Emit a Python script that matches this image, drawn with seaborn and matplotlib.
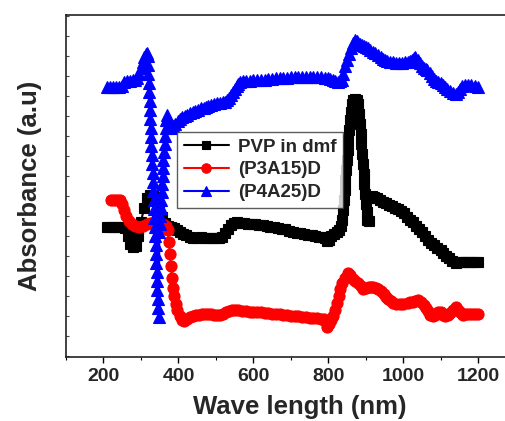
import matplotlib
matplotlib.use("Agg")
import matplotlib.pyplot as plt
import seaborn as sns
import pandas as pd
from matplotlib.ticker import MultipleLocator, NullFormatter

# UV-Vis-NIR absorbance spectra (arbitrary units)
pvp_nm = [210, 220, 230, 240, 251, 258, 265, 272, 280, 287, 293, 300, 308, 316, 324,
          332, 340, 348, 356, 364, 372, 380, 388, 396, 404, 412, 420, 430, 440, 450,
          460, 470, 480, 490, 500, 508, 516, 524, 532, 540, 548, 557, 566, 575, 585,
          595, 605, 615, 625, 635, 645, 655, 665, 675, 685, 695, 705, 715, 725, 735,
          745, 755, 765, 775, 785, 792, 797, 802, 808, 815, 822, 828, 833, 837, 839,
          841, 843, 845, 847, 849, 851, 853, 855, 857, 859, 862, 866, 871, 876, 880,
          882, 884, 886, 888, 890, 892, 894, 896, 898, 900, 902, 904, 907, 910, 915,
          922, 930, 938, 946, 954, 962, 970, 978, 986, 994, 1002, 1010, 1018, 1026, 1034,
          1042, 1050, 1058, 1066, 1074, 1082, 1090, 1099, 1106, 1114, 1122, 1130, 1139, 1147, 1155,
          1163, 1171, 1180, 1190, 1200]
pvp_abs = [0.545, 0.545, 0.545, 0.545, 0.545, 0.54, 0.50, 0.46, 0.445, 0.45, 0.50, 0.57, 0.64, 0.69, 0.705,
           0.705, 0.68, 0.63, 0.595, 0.565, 0.548, 0.545, 0.54, 0.53, 0.52, 0.51, 0.503, 0.495, 0.49, 0.49,
           0.495, 0.49, 0.49, 0.49, 0.49, 0.49, 0.495, 0.515, 0.535, 0.555, 0.565, 0.57, 0.567, 0.565, 0.562,
           0.56, 0.558, 0.555, 0.553, 0.55, 0.547, 0.543, 0.54, 0.537, 0.533, 0.527, 0.52, 0.517, 0.513, 0.51,
           0.507, 0.503, 0.50, 0.497, 0.495, 0.49, 0.475, 0.48, 0.50, 0.51, 0.52, 0.53, 0.55, 0.58, 0.63,
           0.68, 0.73, 0.78, 0.83, 0.88, 0.93, 0.98, 1.03, 1.08, 1.12, 1.16, 1.18, 1.185, 1.18, 1.16,
           1.11, 1.06, 1.01, 0.96, 0.91, 0.86, 0.81, 0.76, 0.71, 0.66, 0.62, 0.58, 0.575, 0.69, 0.70,
           0.695, 0.69, 0.68, 0.672, 0.665, 0.655, 0.648, 0.64, 0.635, 0.625, 0.615, 0.595, 0.58, 0.57, 0.55,
           0.535, 0.52, 0.50, 0.48, 0.465, 0.455, 0.44, 0.43, 0.415, 0.40, 0.39, 0.375, 0.365, 0.37, 0.37,
           0.37, 0.37, 0.37, 0.37, 0.37]

p3a15_nm = [220, 228, 236, 243, 249, 255, 261, 268, 275, 285, 295, 305, 315, 325, 335,
            345, 352, 360, 366, 371, 374, 377, 380, 383, 386, 389, 393, 397, 403, 410,
            416, 424, 432, 440, 448, 456, 464, 472, 480, 488, 496, 504, 512, 520, 528,
            536, 544, 552, 560, 570, 580, 590, 600, 610, 620, 630, 640, 650, 660, 670,
            680, 690, 700, 710, 720, 730, 740, 750, 760, 770, 780, 787, 792, 797, 802,
            807, 812, 817, 822, 827, 832, 837, 843, 851, 858, 865, 872, 880, 887, 893,
            900, 907, 914, 920, 927, 933, 940, 947, 954, 960, 967, 973, 981, 990, 1000,
            1011, 1018, 1025, 1032, 1040, 1047, 1055, 1060, 1065, 1072, 1079, 1085, 1093, 1100, 1106,
            1112, 1118, 1125, 1132, 1139, 1145, 1150, 1155, 1160, 1168, 1175, 1183, 1190, 1200]
p3a15_abs = [0.68, 0.68, 0.68, 0.678, 0.66, 0.63, 0.60, 0.575, 0.56, 0.55, 0.545, 0.55, 0.56, 0.565, 0.565,
             0.565, 0.565, 0.56, 0.55, 0.53, 0.47, 0.41, 0.35, 0.29, 0.24, 0.20, 0.16, 0.13, 0.10, 0.08,
             0.075, 0.085, 0.095, 0.10, 0.103, 0.106, 0.11, 0.11, 0.11, 0.11, 0.107, 0.105, 0.105, 0.11, 0.118,
             0.125, 0.128, 0.13, 0.13, 0.127, 0.125, 0.122, 0.12, 0.12, 0.12, 0.117, 0.115, 0.112, 0.11, 0.11,
             0.107, 0.105, 0.10, 0.10, 0.098, 0.095, 0.093, 0.092, 0.09, 0.088, 0.087, 0.085, 0.075, 0.045, 0.06,
             0.08, 0.10, 0.13, 0.165, 0.20, 0.235, 0.265, 0.29, 0.315, 0.305, 0.285, 0.275, 0.265, 0.25, 0.235,
             0.24, 0.245, 0.245, 0.245, 0.24, 0.235, 0.225, 0.21, 0.195, 0.185, 0.175, 0.165, 0.162, 0.16, 0.162,
             0.165, 0.168, 0.17, 0.175, 0.18, 0.17, 0.155, 0.14, 0.125, 0.105, 0.10, 0.105, 0.12, 0.118, 0.105,
             0.10, 0.105, 0.115, 0.13, 0.145, 0.13, 0.12, 0.11, 0.105, 0.108, 0.11, 0.11, 0.11, 0.11]

p4a25_nm = [210, 218, 226, 234, 242, 250, 256, 262, 270, 278, 284, 290, 295, 300, 305,
            309, 313, 317, 318, 319, 320, 321, 322, 323, 324, 325, 326, 327, 328, 329,
            330, 331, 332, 333, 334, 335, 336, 337, 338, 339, 340, 341, 342, 343, 344,
            345, 346, 347, 349, 350, 351, 353, 354, 355, 356, 358, 359, 360, 362, 363,
            364, 366, 367, 369, 372, 376, 380, 386, 392, 398, 404, 410, 417, 424, 431,
            438, 445, 452, 460, 467, 474, 480, 488, 495, 503, 512, 518, 525, 530, 535,
            540, 545, 550, 555, 560, 565, 573, 580, 590, 600, 610, 620, 630, 640, 650,
            660, 670, 680, 690, 700, 710, 720, 730, 740, 750, 760, 770, 780, 790, 798,
            805, 812, 818, 825, 830, 835, 840, 845, 850, 855, 860, 865, 870, 875, 880,
            885, 890, 895, 900, 906, 912, 918, 925, 932, 939, 945, 950, 957, 965, 972,
            980, 988, 995, 1003, 1011, 1017, 1022, 1027, 1032, 1038, 1045, 1050, 1055, 1060, 1064,
            1070, 1075, 1082, 1088, 1093, 1099, 1105, 1110, 1117, 1125, 1132, 1139, 1145, 1150, 1157,
            1165, 1172, 1180, 1190, 1200]
p4a25_abs = [1.245, 1.245, 1.245, 1.245, 1.245, 1.25, 1.27, 1.275, 1.275, 1.278, 1.28, 1.29, 1.31, 1.34, 1.37,
             1.395, 1.41, 1.415, 1.40, 1.355, 1.31, 1.265, 1.22, 1.175, 1.13, 1.085, 1.04, 0.995, 0.95, 0.905,
             0.86, 0.815, 0.77, 0.725, 0.68, 0.635, 0.59, 0.545, 0.50, 0.455, 0.41, 0.365, 0.32, 0.275, 0.23,
             0.185, 0.14, 0.095, 0.52, 0.56, 0.60, 0.64, 0.68, 0.72, 0.76, 0.80, 0.84, 0.88, 0.92, 0.96,
             1.00, 1.04, 1.08, 1.105, 1.08, 1.055, 1.04, 1.05, 1.06, 1.075, 1.085, 1.095, 1.10, 1.105, 1.113,
             1.12, 1.127, 1.132, 1.138, 1.14, 1.145, 1.15, 1.155, 1.16, 1.163, 1.165, 1.168, 1.17, 1.18, 1.19,
             1.205, 1.22, 1.235, 1.25, 1.26, 1.27, 1.273, 1.275, 1.277, 1.28, 1.28, 1.28, 1.282, 1.285, 1.287,
             1.29, 1.29, 1.29, 1.292, 1.295, 1.295, 1.295, 1.295, 1.295, 1.295, 1.295, 1.295, 1.295, 1.29, 1.288,
             1.285, 1.28, 1.275, 1.27, 1.275, 1.28, 1.31, 1.35, 1.38, 1.41, 1.44, 1.465, 1.48, 1.475, 1.465,
             1.46, 1.455, 1.45, 1.445, 1.44, 1.43, 1.42, 1.415, 1.405, 1.395, 1.385, 1.38, 1.375, 1.37, 1.37,
             1.365, 1.365, 1.365, 1.368, 1.37, 1.375, 1.38, 1.388, 1.395, 1.38, 1.365, 1.35, 1.34, 1.335, 1.33,
             1.315, 1.30, 1.285, 1.275, 1.27, 1.265, 1.255, 1.245, 1.235, 1.225, 1.215, 1.21, 1.22, 1.235, 1.25,
             1.255, 1.255, 1.255, 1.25, 1.245]

series = [
    ("PVP in dmf", pvp_nm, pvp_abs, "#000000", "s", 7.5),
    ("(P3A15)D", p3a15_nm, p3a15_abs, "#ff0000", "o", 8.0),
    ("(P4A25)D", p4a25_nm, p4a25_abs, "#0000ff", "^", 8.0),
]

sns.set_theme(style="white")
plt.rcParams["font.family"] = ["Liberation Sans", "DejaVu Sans"]
plt.rcParams["font.weight"] = "bold"

fig = plt.figure(figsize=(5.06, 4.21), dpi=100)
ax = fig.add_axes([66 / 506, 64 / 421, 450 / 506, 342 / 421])

for label, xs, ys, color, marker, ms in series:
    df = pd.DataFrame({"nm": xs, "abs": ys})
    sns.lineplot(data=df, x="nm", y="abs", ax=ax, color=color, marker=marker,
                 markersize=ms, markeredgecolor=color, markeredgewidth=0.8,
                 linewidth=1.5, sort=False, estimator=None, label=label)

ax.set_xlim(100, 1300)
ax.set_ylim(-0.105, 1.605)
ax.xaxis.set_major_locator(MultipleLocator(200))
ax.xaxis.set_minor_locator(MultipleLocator(100))
ax.yaxis.set_major_locator(MultipleLocator(0.1))
ax.yaxis.set_major_formatter(NullFormatter())

ax.tick_params(axis="x", which="major", direction="out", length=4, width=1,
               color="black", labelsize=14, pad=4, bottom=True)
ax.tick_params(axis="x", which="minor", direction="out", length=2.5, width=0.8,
               color="black", bottom=True)
ax.tick_params(axis="y", which="major", direction="in", length=2, width=0.8,
               color="#444444", left=True)
for lab in ax.get_xticklabels():
    lab.set_fontweight("bold")

for sp in ax.spines.values():
    sp.set_color("#222222")
    sp.set_linewidth(1.2)

ax.set_xlabel("Wave length (nm)", fontsize=18.5, fontweight="bold")
ax.set_ylabel("Absorbance (a.u)", fontsize=18.5, fontweight="bold", labelpad=14)
ax.xaxis.set_label_coords(234 / 450, -0.11)

leg = ax.legend(loc="upper left", bbox_to_anchor=(111 / 450, 225 / 342),
                borderaxespad=0, fontsize=13.5, frameon=True, fancybox=False,
                handlelength=2.4, handletextpad=0.5, labelspacing=0.3,
                borderpad=0.35, markerscale=0.85)
leg.get_frame().set_edgecolor("#333333")
leg.get_frame().set_linewidth(1.0)
for t in leg.get_texts():
    t.set_fontweight("bold")

fig.savefig("out.png", dpi=100)
